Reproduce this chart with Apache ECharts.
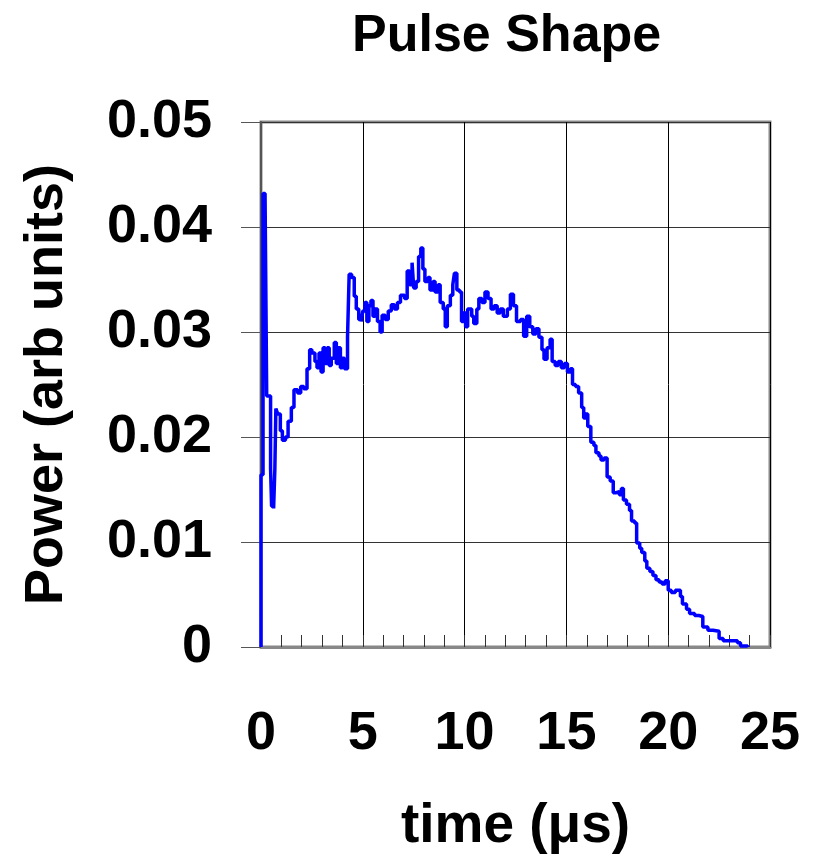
<!DOCTYPE html>
<html>
<head>
<meta charset="utf-8">
<script src="https://cdn.jsdelivr.net/npm/echarts@6/dist/echarts.min.js"></script>
<style>html,body{margin:0;padding:0;background:#fff}#c{width:814px;height:862px}</style>
</head>
<body>
<div id="c"></div>
<script>
// time (microseconds) at which each new power level begins
var timeUs = [0,0,0.1,0.2,0.28,0.47,0.52,0.62,0.68,0.73,0.82,0.95,1.05,1.2,1.33,1.49,1.62,1.8,1.95,2.1,2.26,2.39,2.5,2.65,2.75,2.85,2.95,3.05,3.15,3.25,3.35,3.45,3.6,3.7,3.8,3.9,4.0,4.1,4.25,4.33,4.45,4.58,4.68,4.8,4.92,5.0,5.1,5.2,5.3,5.4,5.5,5.6,5.72,5.85,5.95,6.1,6.25,6.4,6.55,6.7,6.85,7.05,7.18,7.3,7.42,7.5,7.62,7.74,7.85,7.95,8.05,8.2,8.3,8.45,8.55,8.7,8.8,8.95,9.05,9.15,9.3,9.42,9.5,9.62,9.75,9.85,9.95,10.05,10.15,10.35,10.45,10.6,10.7,10.85,11.0,11.15,11.3,11.45,11.6,11.75,11.9,12.1,12.25,12.4,12.55,12.75,12.9,13.05,13.2,13.35,13.5,13.65,13.8,13.9,14.05,14.2,14.3,14.45,14.6,14.75,14.9,15.05,15.2,15.3,15.45,15.6,15.75,15.85,15.95,16.05,16.2,16.35,16.45,16.6,16.7,16.85,17.0,17.15,17.3,17.45,17.6,17.7,17.8,17.95,18.1,18.2,18.35,18.45,18.6,18.7,18.85,18.95,19.1,19.25,19.4,19.55,19.7,19.85,20.0,20.15,20.35,20.6,20.7,20.9,21.05,21.3,21.5,21.7,21.95,22.2,22.5,22.7,23.4,23.55,23.9];
// power (arb units)
var power = [0,0.0164,0.0432,0.0428,0.0239,0.017,0.0134,0.0132,0.0169,0.0227,0.0222,0.0206,0.0197,0.020,0.0215,0.0228,0.0245,0.0242,0.0248,0.0246,0.0265,0.0283,0.028,0.0272,0.0266,0.028,0.0262,0.0285,0.027,0.0285,0.0268,0.0275,0.029,0.027,0.0285,0.0266,0.0275,0.0265,0.0295,0.0355,0.0352,0.0334,0.0322,0.0312,0.031,0.032,0.0328,0.031,0.0325,0.033,0.0315,0.0322,0.031,0.030,0.0316,0.0312,0.032,0.0326,0.0322,0.0328,0.0335,0.0332,0.0358,0.0345,0.0366,0.0342,0.0348,0.0372,0.038,0.036,0.0348,0.0352,0.034,0.0348,0.0338,0.0345,0.0328,0.0322,0.0305,0.0325,0.0335,0.0345,0.0356,0.034,0.0338,0.031,0.0318,0.0305,0.0322,0.0315,0.0308,0.0322,0.0332,0.0328,0.0338,0.0332,0.0322,0.0325,0.0318,0.0322,0.0315,0.0322,0.0336,0.0325,0.031,0.0312,0.0296,0.0315,0.0305,0.0298,0.0303,0.0295,0.0283,0.0274,0.0285,0.0293,0.0272,0.0268,0.0272,0.0266,0.027,0.0262,0.0265,0.025,0.0248,0.0242,0.0228,0.0218,0.0222,0.021,0.0195,0.0192,0.0185,0.0182,0.0178,0.018,0.0162,0.0158,0.0147,0.0148,0.0145,0.0151,0.014,0.0136,0.013,0.012,0.0118,0.0099,0.0094,0.009,0.0082,0.0075,0.0072,0.0068,0.0064,0.0062,0.006,0.0063,0.0054,0.0052,0.0054,0.0048,0.0041,0.0036,0.0032,0.003,0.0029,0.0019,0.0016,0.0015,0.0008,0.0006,0.0004,0.0001,0];
var xTickLabels = ['0','5','10','15','20','25'];
var yTickLabels = ['0','0.01','0.02','0.03','0.04','0.05'];

var seriesData = timeUs.map(function(t,i){return [t, power[i]];});
var FONT = '"Liberation Sans", Arial, sans-serif';
var chart = echarts.init(document.getElementById('c'));
chart.setOption({
  animation: false,
  backgroundColor: '#fff',
  title: {
    text: 'Pulse Shape', left: 347, top: 6,
    textStyle: {fontFamily: FONT, fontWeight: 'bold', fontSize: 52, color: '#000'}
  },
  grid: {left: 261, right: 44, top: 122, bottom: 215, show: true, borderColor: '#888', borderWidth: 3, backgroundColor: 'transparent'},
  xAxis: {
    type: 'value', min: 0, max: 25, interval: 5,
    name: 'time (\u03bcs)', nameLocation: 'middle', nameGap: 152,
    nameTextStyle: {fontFamily: FONT, fontWeight: 'bold', fontSize: 55, color: '#000'},
    axisLine: {show: true, onZero: false, lineStyle: {color: '#888', width: 3}},
    axisTick: {show: true, inside: true, length: 12, lineStyle: {color: '#333', width: 1}},
    minorTick: {show: true, splitNumber: 5, length: 12, lineStyle: {color: '#333', width: 1}},
    splitLine: {show: true, lineStyle: {color: '#000', width: 1}},
    axisLabel: {
      margin: 60, fontFamily: FONT, fontWeight: 'bold', fontSize: 54, color: '#000',
      formatter: function(v){ return xTickLabels[Math.round(v/5)]; }
    }
  },
  yAxis: {
    type: 'value', min: 0, max: 0.05, interval: 0.01,
    name: 'Power (arb units)', nameLocation: 'middle', nameGap: 187,
    nameTextStyle: {fontFamily: FONT, fontWeight: 'bold', fontSize: 54, color: '#000'},
    axisLine: {show: true, lineStyle: {color: '#555', width: 2}},
    axisTick: {show: true, inside: false, length: 20, lineStyle: {color: '#555', width: 1}},
    splitLine: {show: true, lineStyle: {color: '#333', width: 1}},
    axisLabel: {
      margin: 49, fontFamily: FONT, fontWeight: 'bold', fontSize: 54, color: '#000',
      formatter: function(v){ return yTickLabels[Math.round(v/0.01)]; }
    }
  },
  series: [{
    type: 'line', step: 'end', data: seriesData, showSymbol: false, symbol: 'none',
    lineStyle: {color: '#0000ff', width: 3.5}, clip: true
  }]
});
</script>
</body>
</html>
